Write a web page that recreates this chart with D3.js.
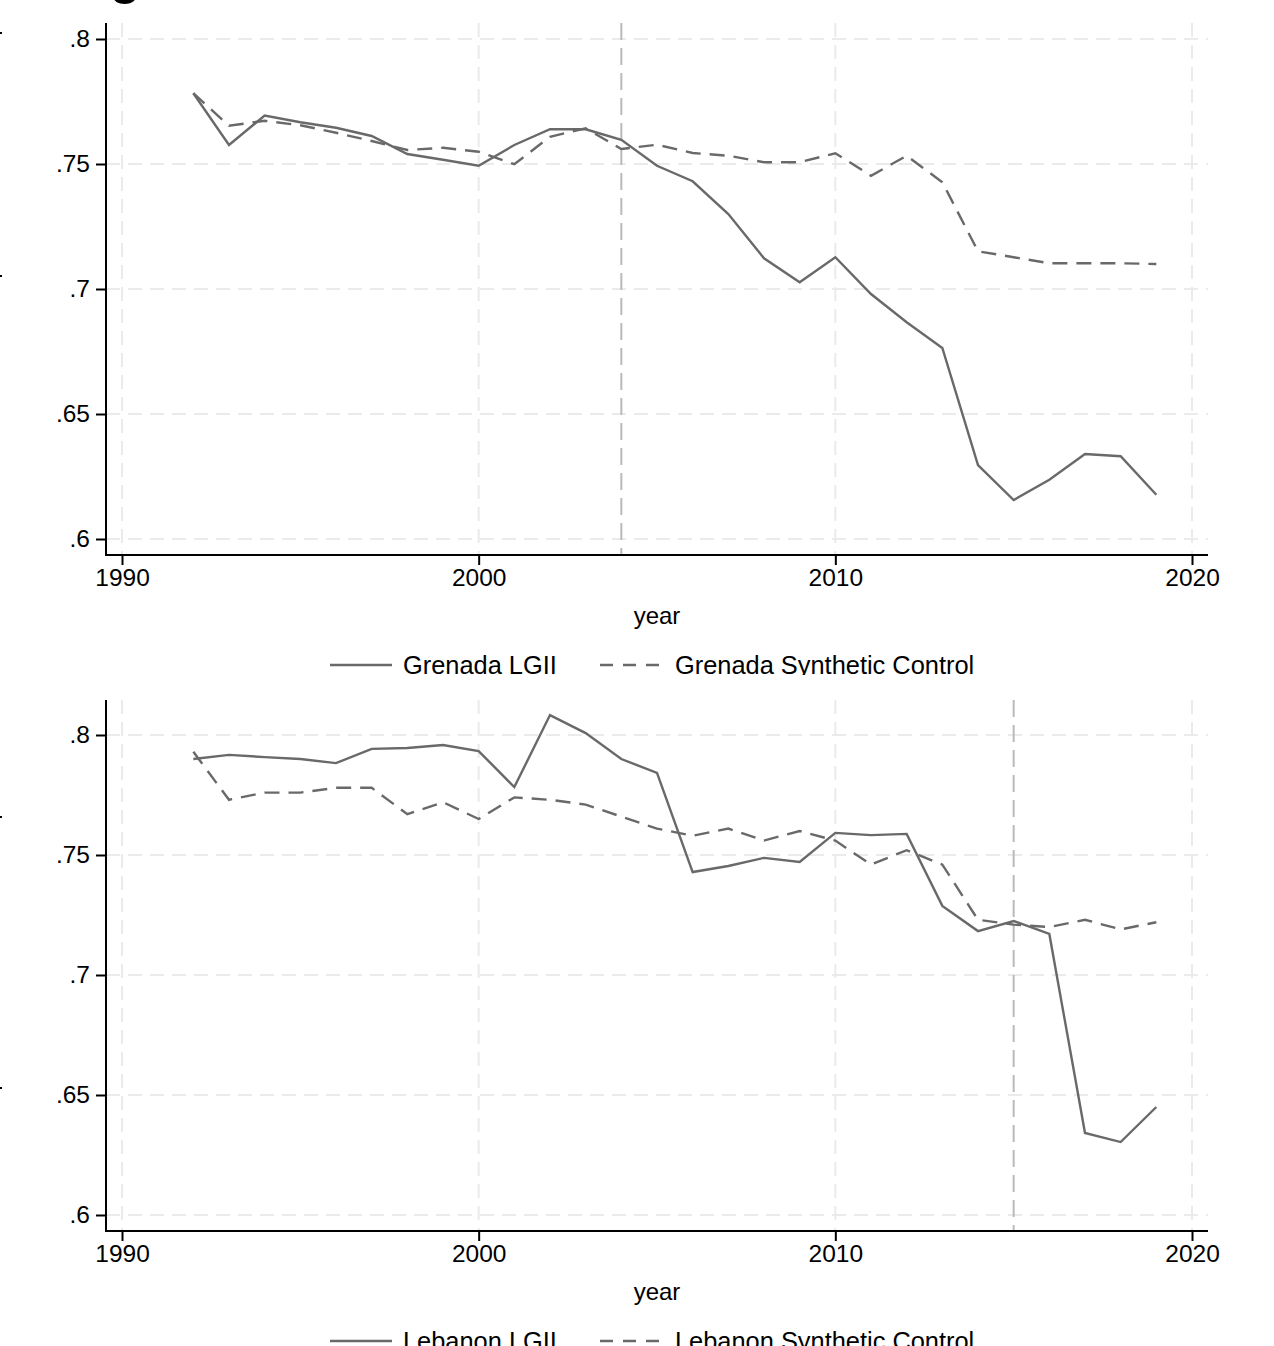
<!DOCTYPE html>
<html><head><meta charset="utf-8">
<script src="https://cdn.jsdelivr.net/npm/d3@7"></script>
<style>
html,body{margin:0;padding:0;background:#fff;}
svg{display:block;font-family:"Liberation Sans",Arial,sans-serif;}
</style></head>
<body>
<svg id="chart" width="1274" height="1346"></svg>
<script>
const years = d3.range(1992, 2020);
const grenadaLGII = [0.7783,0.7576,0.7694,0.7667,0.7645,0.7612,0.7540,0.7517,0.7493,0.7576,0.7639,0.7639,0.7597,0.7493,0.7431,0.7300,0.7123,0.7027,0.7127,0.6980,0.6867,0.6764,0.6296,0.6156,0.6237,0.6340,0.6331,0.6177];
const grenadaSynth = [0.7783,0.7653,0.7673,0.7655,0.7625,0.7592,0.7556,0.7565,0.7549,0.7499,0.7609,0.7643,0.7560,0.7577,0.7544,0.7533,0.7507,0.7507,0.7543,0.7453,0.7533,0.7427,0.7151,0.7127,0.7103,0.7103,0.7103,0.7100];
const lebanonLGII = [0.7900,0.7917,0.7908,0.7900,0.7883,0.7942,0.7946,0.7958,0.7933,0.7783,0.8083,0.8008,0.7900,0.7842,0.7429,0.7454,0.7488,0.7471,0.7592,0.7583,0.7588,0.7288,0.7183,0.7225,0.7171,0.6342,0.6304,0.6450];
const lebanonSynth = [0.7930,0.7730,0.7760,0.7760,0.7780,0.7780,0.7670,0.7720,0.7650,0.7740,0.7730,0.7710,0.7660,0.7610,0.7580,0.7610,0.7560,0.7600,0.7560,0.7460,0.7520,0.7460,0.7230,0.7210,0.7200,0.7230,0.7190,0.7220];
const yTicks = [0.6, 0.65, 0.7, 0.75, 0.8];
const yTickLabels = [".6", ".65", ".7", ".75", ".8"];
const xTicks = [1990, 2000, 2010, 2020];
const xTitle = "year";
const panels = [
  {solid: grenadaLGII, dashed: grenadaSynth, legend: ["Grenada LGII", "Grenada Synthetic Control"], treat: 2004,
   top: 23, bottom: 555, y06: 539, y08: 39},
  {solid: lebanonLGII, dashed: lebanonSynth, legend: ["Lebanon LGII", "Lebanon Synthetic Control"], treat: 2015,
   top: 700, bottom: 1231, y06: 1215, y08: 735}
];

const svg = d3.select("#chart");
const lineCol = "#696969";
const x0 = 106, x1 = 1208;
const x = d3.scaleLinear().domain([1990, 2020]).range([122, 1192]);

// partial title glyph at top (cut off by the frame)
svg.append("text").attr("x", 110).attr("y", -6).attr("font-size", 50).attr("font-weight", "bold").attr("fill", "#000").text("g");

// stray tick marks of an adjacent panel at the left edge
[33, 276, 817, 1088].forEach(yy => {
  svg.append("line").attr("x1", 0).attr("x2", 2).attr("y1", yy).attr("y2", yy).attr("stroke", "#000").attr("stroke-width", 2);
});

panels.forEach((p, i) => {
  const y = d3.scaleLinear().domain([0.6, 0.8]).range([p.y06, p.y08]);
  const g = svg.append("g");
  // gridlines
  g.selectAll(".hg").data(yTicks).join("line")
    .attr("x1", x0).attr("x2", x1).attr("y1", d => y(d)).attr("y2", d => y(d))
    .attr("stroke", "#ebebeb").attr("stroke-width", 2).attr("stroke-dasharray", "14,8");
  g.selectAll(".vg").data(xTicks).join("line")
    .attr("x1", d => x(d)).attr("x2", d => x(d)).attr("y1", p.top).attr("y2", p.bottom)
    .attr("stroke", "#ebebeb").attr("stroke-width", 2).attr("stroke-dasharray", "14,8");
  // treatment line
  g.append("line").attr("x1", x(p.treat)).attr("x2", x(p.treat)).attr("y1", p.top).attr("y2", p.bottom)
    .attr("stroke", "#bababa").attr("stroke-width", 2).attr("stroke-dasharray", "17,8");
  // series
  const line = d3.line().x((d, j) => x(years[j])).y(d => y(d));
  g.append("path").datum(p.dashed).attr("d", line).attr("fill", "none").attr("stroke", lineCol)
    .attr("stroke-width", 2.4).attr("stroke-dasharray", "15,9");
  g.append("path").datum(p.solid).attr("d", line).attr("fill", "none").attr("stroke", lineCol)
    .attr("stroke-width", 2.4);
  // y axis
  const ya = d3.axisLeft(y).tickValues(yTicks).tickFormat((d, j) => yTickLabels[j]).tickSize(10).tickPadding(6);
  const yg = g.append("g").attr("transform", `translate(${x0},0)`).call(ya);
  yg.select(".domain").remove();
  yg.append("line").attr("x1", 0).attr("x2", 0).attr("y1", p.top).attr("y2", p.bottom).attr("stroke", "#000").attr("stroke-width", 2);
  yg.selectAll(".tick line").attr("stroke", "#000").attr("stroke-width", 2);
  yg.selectAll(".tick text").attr("font-size", 24.5).attr("fill", "#000").attr("font-family", "Liberation Sans, Arial, sans-serif");
  // x axis
  const xa = d3.axisBottom(x).tickValues(xTicks).tickFormat(d3.format("d")).tickSize(10).tickPadding(4);
  const xg = g.append("g").attr("transform", `translate(0,${p.bottom})`).call(xa);
  xg.select(".domain").remove();
  xg.append("line").attr("x1", x0 - 1).attr("x2", x1).attr("y1", 0).attr("y2", 0).attr("stroke", "#000").attr("stroke-width", 2);
  xg.selectAll(".tick line").attr("stroke", "#000").attr("stroke-width", 2);
  xg.selectAll(".tick text").attr("font-size", 24.5).attr("fill", "#000").attr("font-family", "Liberation Sans, Arial, sans-serif");
  // axis title
  g.append("text").attr("x", 657).attr("y", p.bottom + 69).attr("text-anchor", "middle")
    .attr("font-size", 24).attr("fill", "#000").text(xTitle);
  // legend (its box clips the descenders)
  const ly = p.bottom + 110;
  const clipId = "lc" + i;
  svg.append("clipPath").attr("id", clipId).append("rect").attr("x", 0).attr("y", ly - 30).attr("width", 1274).attr("height", 40);
  const lg = g.append("g").attr("clip-path", `url(#${clipId})`);
  lg.append("line").attr("x1", 330).attr("x2", 392).attr("y1", ly).attr("y2", ly).attr("stroke", lineCol).attr("stroke-width", 2.4);
  lg.append("text").attr("x", 403).attr("y", ly + 9).attr("font-size", 25.4).attr("fill", "#000").text(p.legend[0]);
  lg.append("line").attr("x1", 600).attr("x2", 660).attr("y1", ly).attr("y2", ly).attr("stroke", lineCol).attr("stroke-width", 2.4).attr("stroke-dasharray", "13,10");
  lg.append("text").attr("x", 675).attr("y", ly + 9).attr("font-size", 25.4).attr("fill", "#000").text(p.legend[1]);
});
</script>
</body></html>
